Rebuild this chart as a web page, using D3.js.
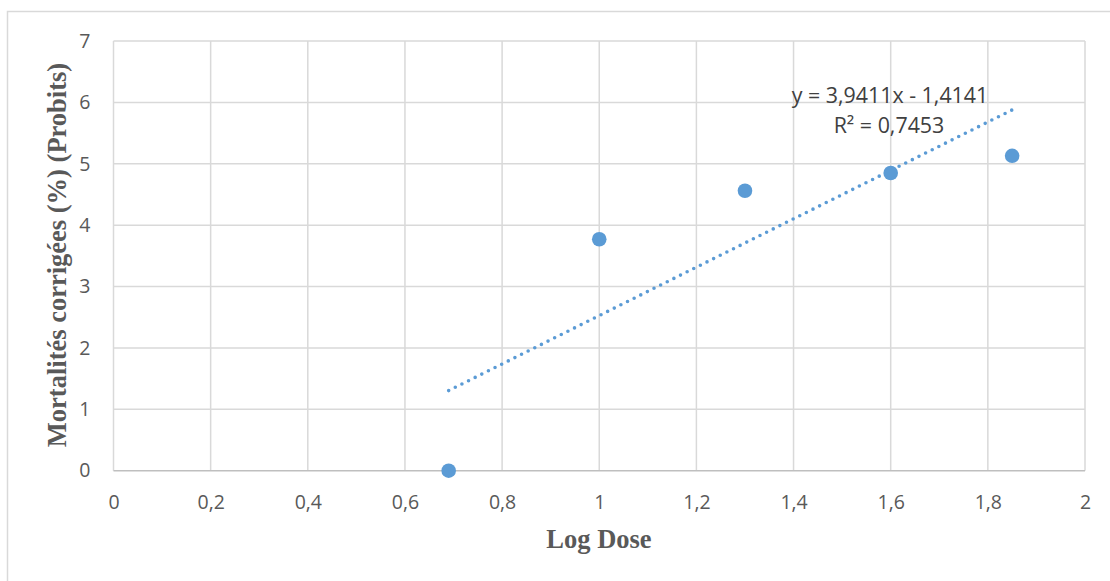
<!DOCTYPE html>
<html>
<head>
<meta charset="utf-8">
<script src="https://cdn.jsdelivr.net/npm/d3@7"></script>
<style>
  body { margin: 0; background: #fff; }
  svg { display: block; }
</style>
</head>
<body>
<script>
// data
const logDose = [0.69, 1, 1.3, 1.6, 1.85];
const probits = [0, 3.77, 4.56, 4.85, 5.13];
const slope = 3.9411;
const intercept = -1.4141;
const eqLabel = "y = 3,9411x - 1,4141";
const r2Label = "R² = 0,7453";
const xTicks = [0, 0.2, 0.4, 0.6, 0.8, 1, 1.2, 1.4, 1.6, 1.8, 2];
const yTicks = [0, 1, 2, 3, 4, 5, 6, 7];

const W = 1110, H = 581;
const plotL = 113.5, plotR = 1085, plotT = 41, plotB = 470.7;
const blue = "#5b9bd5";
const fmt = d => String(d).replace(".", ",");

const svg = d3.select("body").append("svg").attr("width", W).attr("height", H);

// chart border
svg.append("rect")
    .attr("x", 7.5).attr("y", 11.5)
    .attr("width", W + 20).attr("height", H + 20)
    .attr("fill", "none").attr("stroke", "#d9d9d9").attr("stroke-width", 1.5);

const x = d3.scaleLinear().domain([0, 2]).range([plotL, plotR]);
const y = d3.scaleLinear().domain([0, 7]).range([plotB, plotT]);

// grid
svg.append("g").selectAll("line").data(xTicks).join("line")
    .attr("x1", d => x(d)).attr("x2", d => x(d))
    .attr("y1", plotT).attr("y2", plotB)
    .attr("stroke", "#d9d9d9").attr("stroke-width", 1.5);
svg.append("g").selectAll("line").data(yTicks).join("line")
    .attr("x1", plotL).attr("x2", plotR)
    .attr("y1", d => y(d)).attr("y2", d => y(d))
    .attr("stroke", d => d === 0 ? "#bfbfbf" : "#d9d9d9").attr("stroke-width", 1.5);

// tick labels
const tickFont = "'Open Sans', 'Liberation Sans', sans-serif";
const xAxis = d3.axisBottom(x).tickValues(xTicks).tickFormat(fmt).tickSize(0).tickPadding(24);
const gx = svg.append("g").attr("transform", `translate(0,${plotB})`).call(xAxis);
gx.select(".domain").remove();
gx.selectAll("text").attr("fill", "#595959").attr("font-size", 19.5).attr("font-family", tickFont);

const yAxis = d3.axisLeft(y).tickValues(yTicks).tickFormat(fmt).tickSize(0).tickPadding(23);
const gy = svg.append("g").attr("transform", `translate(${plotL},0)`).call(yAxis);
gy.select(".domain").remove();
gy.selectAll("text").attr("fill", "#595959").attr("font-size", 19.5).attr("font-family", tickFont);

// trend line
const x0 = d3.min(logDose), x1 = d3.max(logDose);
svg.append("line")
    .attr("x1", x(x0)).attr("y1", y(slope * x0 + intercept))
    .attr("x2", x(x1)).attr("y2", y(slope * x1 + intercept))
    .attr("stroke", blue).attr("stroke-width", 3.6)
    .attr("stroke-linecap", "round").attr("stroke-dasharray", "0,7.4");

// points
svg.append("g").selectAll("circle").data(logDose).join("circle")
    .attr("cx", d => x(d)).attr("cy", (d, i) => y(probits[i]))
    .attr("r", 7.3).attr("fill", blue);

// equation
svg.append("text").attr("x", 890).attr("y", 103)
    .attr("text-anchor", "middle").attr("fill", "#404040")
    .attr("font-size", 21.4).attr("font-family", tickFont).text(eqLabel);
svg.append("text").attr("x", 889).attr("y", 133)
    .attr("text-anchor", "middle").attr("fill", "#404040")
    .attr("font-size", 21.4).attr("font-family", tickFont).text(r2Label);

// axis titles
const titleFont = "'Liberation Serif', 'DejaVu Serif', serif";
svg.append("text").attr("x", 599).attr("y", 548)
    .attr("text-anchor", "middle").attr("fill", "#595959")
    .attr("font-size", 26.5).attr("font-weight", "bold").attr("font-family", titleFont)
    .text("Log Dose");
svg.append("text")
    .attr("transform", `translate(66,255) rotate(-90)`)
    .attr("text-anchor", "middle").attr("fill", "#595959")
    .attr("font-size", 26.5).attr("font-weight", "bold").attr("font-family", titleFont)
    .text("Mortalités corrigées (%) (Probits)");
</script>
</body>
</html>
